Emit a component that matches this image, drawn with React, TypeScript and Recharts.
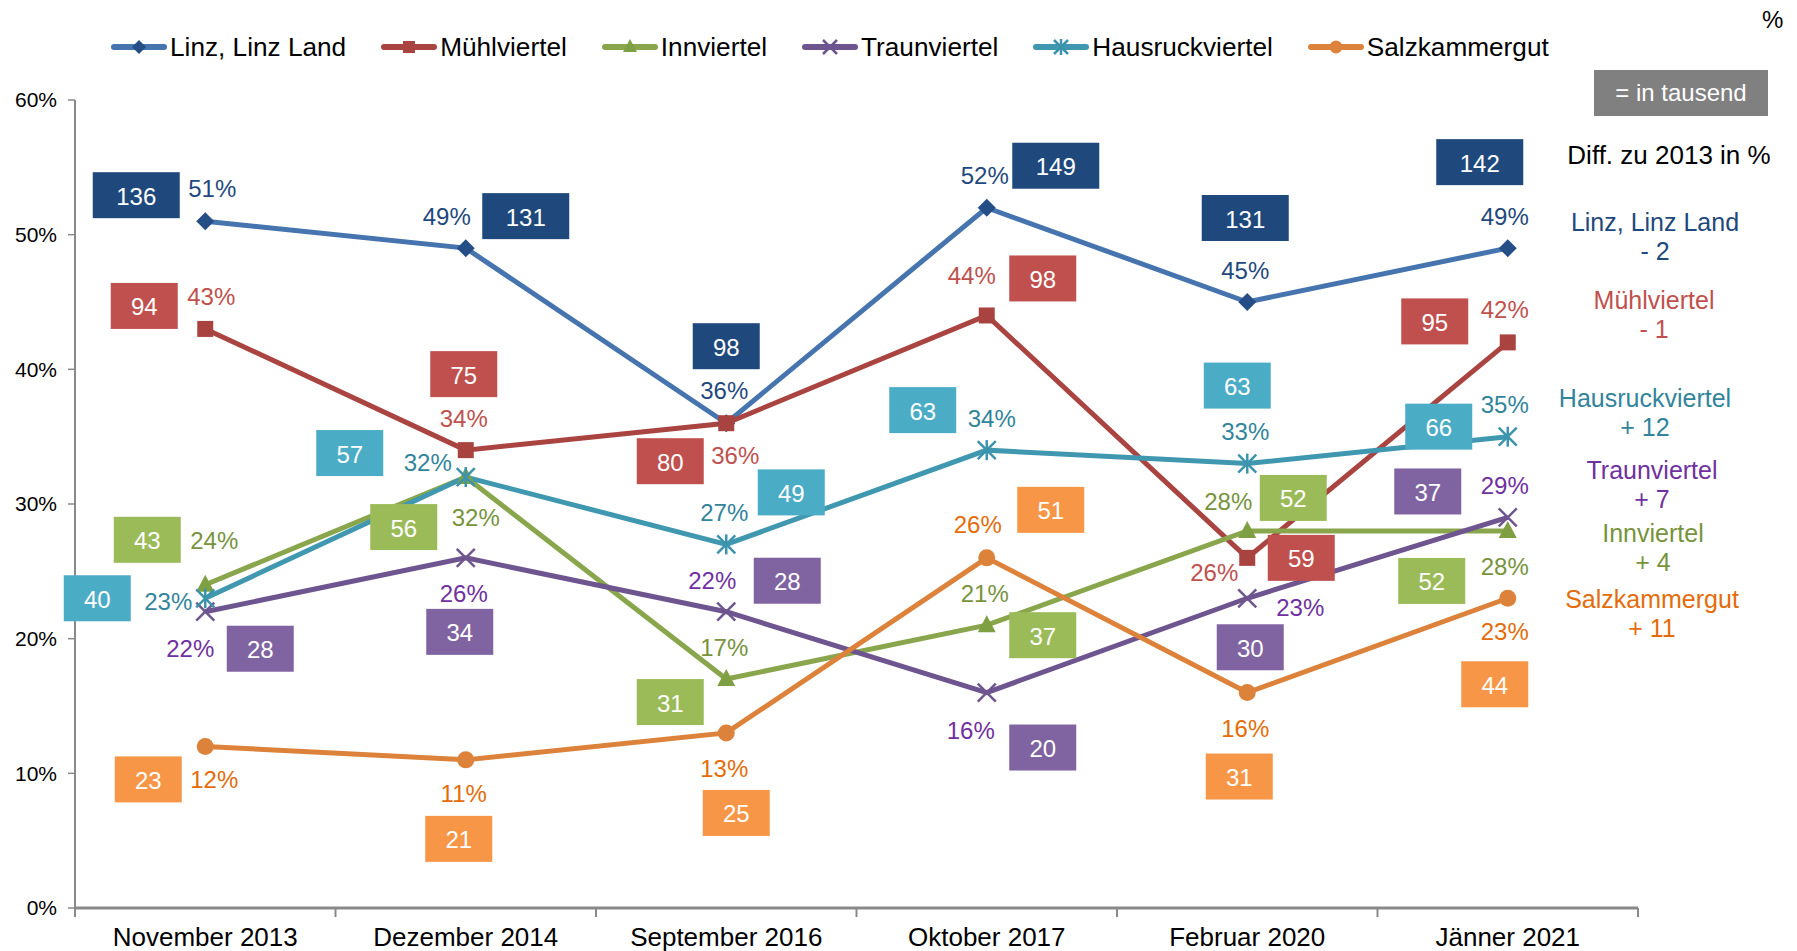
import React from "react";
import { LineChart, Line, XAxis, YAxis } from "recharts";

const FONT = '"Liberation Sans", Arial, sans-serif';

const CATEGORIES = [
  "November 2013",
  "Dezember 2014",
  "September 2016",
  "Oktober 2017",
  "Februar 2020",
  "Jänner 2021",
];
const Y_TICKS = [0, 10, 20, 30, 40, 50, 60];

// percent values
const LINZ = [51, 49, 36, 52, 45, 49];
const MUEHL = [43, 34, 36, 44, 26, 42];
const INN = [24, 32, 17, 21, 28, 28];
const TRAUN = [22, 26, 22, 16, 23, 29];
const HAUS = [23, 32, 27, 34, 33, 35];
const SALZ = [12, 11, 13, 26, 16, 23];

// absolute numbers, in thousand
const LINZ_K = [136, 131, 98, 149, 131, 142];
const MUEHL_K = [94, 75, 80, 98, 59, 95];
const INN_K = [43, 56, 31, 37, 52, 52];
const TRAUN_K = [28, 34, 28, 20, 30, 37];
const HAUS_K = [40, 57, 49, 63, 63, 66];
const SALZ_K = [23, 21, 25, 51, 31, 44];

// difference to 2013, right-hand notes
const DIFF_NAMES = ["Linz, Linz Land", "Mühlviertel", "Hausruckviertel", "Traunviertel", "Innviertel", "Salzkammergut"];
const DIFF_VALUES = ["- 2", "- 1", "+ 12", "+ 7", "+ 4", "+ 11"];

type Shape = "diamond" | "square" | "triangle" | "x" | "star" | "circle";

interface Series {
  key: string;
  name: string;
  pct: number[];
  k: number[];
  line: string;
  marker: string;
  text: string;
  box: string;
  shape: Shape;
}

const SERIES: Series[] = [
  { key: "linz", name: "Linz, Linz Land", pct: LINZ, k: LINZ_K, line: "#4674AE", marker: "#254E86", text: "#1F497D", box: "#1F497D", shape: "diamond" },
  { key: "muehl", name: "Mühlviertel", pct: MUEHL, k: MUEHL_K, line: "#AA4441", marker: "#A94340", text: "#C0504D", box: "#C0504D", shape: "square" },
  { key: "inn", name: "Innviertel", pct: INN, k: INN_K, line: "#89A64D", marker: "#7E9F42", text: "#77933C", box: "#9BBB59", shape: "triangle" },
  { key: "traun", name: "Traunviertel", pct: TRAUN, k: TRAUN_K, line: "#6E5590", marker: "#6E5590", text: "#7030A0", box: "#8064A2", shape: "x" },
  { key: "haus", name: "Hausruckviertel", pct: HAUS, k: HAUS_K, line: "#4098B0", marker: "#3C93AC", text: "#31849B", box: "#4BACC6", shape: "star" },
  { key: "salz", name: "Salzkammergut", pct: SALZ, k: SALZ_K, line: "#DD823A", marker: "#DD823A", text: "#E46C0A", box: "#F79646", shape: "circle" },
];

// label placement relative to the point: [pct dx, pct dy, box dx, box dy]
const LABEL_POS: Record<string, number[][]> = {
  linz: [[7, -33, -69, -26], [-19, -32, 60, -32], [-2, -33, 0, -77], [-2, -32, 69, -42], [-2, -32, -2, -84], [-3, -32, -28, -86]],
  muehl: [[6, -32, -61, -23], [-2, -32, -2, -76], [9, 32, -56, 38], [-15, -40, 56, -37], [-33, 15, 54, 0], [-3, -33, -73, -21]],
  inn: [[9, -44, -58, -45], [10, 40, -62, 50], [-2, -32, -56, 23], [-2, -32, 56, 10], [-19, -29, 46, -33], [-3, 36, -76, 50]],
  traun: [[-15, 37, 55, 37], [-2, 36, -6, 74], [-14, -31, 61, -31], [-16, 38, 56, 55], [53, 9, 3, 49], [-3, -32, -80, -26]],
  haus: [[-37, 3, -108, 0], [-38, -15, -116, -24], [-2, -32, 65, -52], [5, -32, -64, -40], [-2, -32, -10, -78], [-3, -32, -69, -10]],
  salz: [[9, 33, -57, 33], [-2, 34, -7, 79], [-2, 36, 10, 80], [-9, -33, 64, -48], [-2, 36, -8, 84], [-3, 33, -13, 86]],
};

const DIFF_TOP = [223, 301, 399, 471, 534, 600];
const DIFF_LEFT = [1655, 1654, 1645, 1652, 1653, 1652];
const DIFF_COLORS = ["#1F497D", "#C0504D", "#31849B", "#7030A0", "#77933C", "#E46C0A"];

const data = CATEGORIES.map((c, i) => {
  const row: Record<string, number | string> = { x: i + 0.5, name: c };
  SERIES.forEach((s) => {
    row[s.key] = s.pct[i];
  });
  return row;
});

const X_TICKS = [0, 0.5, 1, 1.5, 2, 2.5, 3, 3.5, 4, 4.5, 5, 5.5, 6];

function Marker({ cx, cy, shape, color, s = 9 }: { cx: number; cy: number; shape: Shape; color: string; s?: number }) {
  switch (shape) {
    case "diamond":
      return <polygon points={`${cx},${cy - s} ${cx + s},${cy} ${cx},${cy + s} ${cx - s},${cy}`} fill={color} />;
    case "square":
      return <rect x={cx - s + 1} y={cy - s + 1} width={2 * s - 2} height={2 * s - 2} fill={color} />;
    case "triangle":
      return <polygon points={`${cx},${cy - s - 1} ${cx + s},${cy + s - 2} ${cx - s},${cy + s - 2}`} fill={color} />;
    case "x":
      return (
        <g stroke={color} strokeWidth={2.5}>
          <line x1={cx - s} y1={cy - s} x2={cx + s} y2={cy + s} />
          <line x1={cx - s} y1={cy + s} x2={cx + s} y2={cy - s} />
        </g>
      );
    case "star":
      return (
        <g stroke={color} strokeWidth={2.5}>
          <line x1={cx - s} y1={cy - s} x2={cx + s} y2={cy + s} />
          <line x1={cx - s} y1={cy + s} x2={cx + s} y2={cy - s} />
          <line x1={cx} y1={cy - s - 1} x2={cx} y2={cy + s + 1} />
        </g>
      );
    default:
      return <circle cx={cx} cy={cy} r={s - 0.5} fill={color} />;
  }
}

function XTick(props: any) {
  const { x, y, payload } = props;
  const v = payload.value as number;
  if (Number.isInteger(v)) {
    return <line x1={x} y1={y} x2={x} y2={y + 9} stroke="#898989" strokeWidth={2} />;
  }
  return (
    <text x={x} y={y + 29} textAnchor="middle" dominantBaseline="central" fontSize={26} fontFamily={FONT} fill="#000">
      {CATEGORIES[Math.floor(v)]}
    </text>
  );
}

function makeDot(s: Series) {
  return (p: any) => {
    if (p.cx == null || p.cy == null) return <g key={`${s.key}-m-${p.index}`} />;
    return <Marker key={`${s.key}-m-${p.index}`} cx={p.cx} cy={p.cy} shape={s.shape} color={s.marker} />;
  };
}

function makeLabels(s: Series) {
  return (p: any) => {
    const i = p.index as number;
    if (p.cx == null || p.cy == null) return <g key={`${s.key}-l-${i}`} />;
    const [pdx, pdy, bdx, bdy] = LABEL_POS[s.key][i];
    const k = String(s.k[i]);
    const w = 20 * k.length + 27;
    const h = 46;
    const bx = p.cx + bdx;
    const by = p.cy + bdy;
    return (
      <g key={`${s.key}-l-${i}`} fontFamily={FONT}>
        <rect x={bx - w / 2} y={by - h / 2} width={w} height={h} fill={s.box} />
        <text x={bx} y={by + 1} textAnchor="middle" dominantBaseline="central" fontSize={24} fill="#fff">
          {k}
        </text>
        <text x={p.cx + pdx} y={p.cy + pdy} textAnchor="middle" dominantBaseline="central" fontSize={24} fill={s.text}>
          {`${s.pct[i]}%`}
        </text>
      </g>
    );
  };
}

function LegendIcon({ s }: { s: Series }) {
  return (
    <svg width={58} height={20} style={{ display: "block" }}>
      <line x1={4} y1={10} x2={54} y2={10} stroke={s.line} strokeWidth={6} strokeLinecap="round" />
      <Marker cx={29} cy={10} shape={s.shape} color={s.marker} s={7} />
    </svg>
  );
}

export default function App() {
  return (
    <div style={{ position: "absolute", left: 0, top: 0, width: 1797, height: 951, background: "#fff", fontFamily: FONT }}>
      <LineChart width={1797} height={951} data={data} margin={{ top: 100, right: 159, bottom: 0, left: 0 }}>
        <XAxis
          dataKey="x"
          type="number"
          domain={[0, 6]}
          ticks={X_TICKS}
          interval={0}
          tickLine={false}
          tickSize={0}
          tickMargin={0}
          height={43}
          axisLine={{ stroke: "#898989", strokeWidth: 3 }}
          tick={<XTick />}
        />
        <YAxis
          type="number"
          domain={[0, 60]}
          ticks={Y_TICKS}
          interval={0}
          width={75}
          tickSize={7}
          tickMargin={11}
          tickFormatter={(v: number) => `${v}%`}
          axisLine={{ stroke: "#898989", strokeWidth: 2 }}
          tickLine={{ stroke: "#898989", strokeWidth: 1.5 }}
          tick={{ fill: "#000", fontSize: 21, fontFamily: FONT }}
        />
        {SERIES.map((s) => (
          <Line
            key={s.key}
            dataKey={s.key}
            name={s.name}
            type="linear"
            stroke={s.line}
            strokeWidth={5}
            dot={makeDot(s)}
            activeDot={false}
            isAnimationActive={false}
          />
        ))}
        {SERIES.map((s) => (
          <Line
            key={`${s.key}-labels`}
            dataKey={s.key}
            legendType="none"
            type="linear"
            stroke="none"
            dot={makeLabels(s)}
            activeDot={false}
            isAnimationActive={false}
          />
        ))}
      </LineChart>

      {/* legend */}
      <div style={{ position: "absolute", left: 110, top: 32, height: 30, display: "flex", alignItems: "center", fontSize: 26.2, color: "#000" }}>
        {SERIES.map((s) => (
          <div key={s.key} style={{ display: "flex", alignItems: "center", marginRight: 34 }}>
            <LegendIcon s={s} />
            <span style={{ marginLeft: 2, whiteSpace: "nowrap" }}>{s.name}</span>
          </div>
        ))}
      </div>

      <div style={{ position: "absolute", left: 1762, top: 6, fontSize: 24, color: "#000" }}>%</div>
      <div
        style={{
          position: "absolute",
          left: 1594,
          top: 70,
          width: 174,
          height: 46,
          background: "#808080",
          color: "#fff",
          fontSize: 24,
          display: "flex",
          alignItems: "center",
          justifyContent: "center",
        }}
      >
        = in tausend
      </div>
      <div style={{ position: "absolute", left: 1669, top: 155, transform: "translate(-50%, -50%)", fontSize: 26, color: "#000", whiteSpace: "nowrap" }}>
        Diff. zu 2013 in %
      </div>
      {DIFF_NAMES.map((n, i) => (
        <div
          key={n}
          style={{
            position: "absolute",
            left: DIFF_LEFT[i],
            top: DIFF_TOP[i] - 15,
            transform: "translateX(-50%)",
            fontSize: 25,
            lineHeight: "29px",
            textAlign: "center",
            color: DIFF_COLORS[i],
            whiteSpace: "nowrap",
          }}
        >
          <div>{n}</div>
          <div>{DIFF_VALUES[i]}</div>
        </div>
      ))}
    </div>
  );
}
